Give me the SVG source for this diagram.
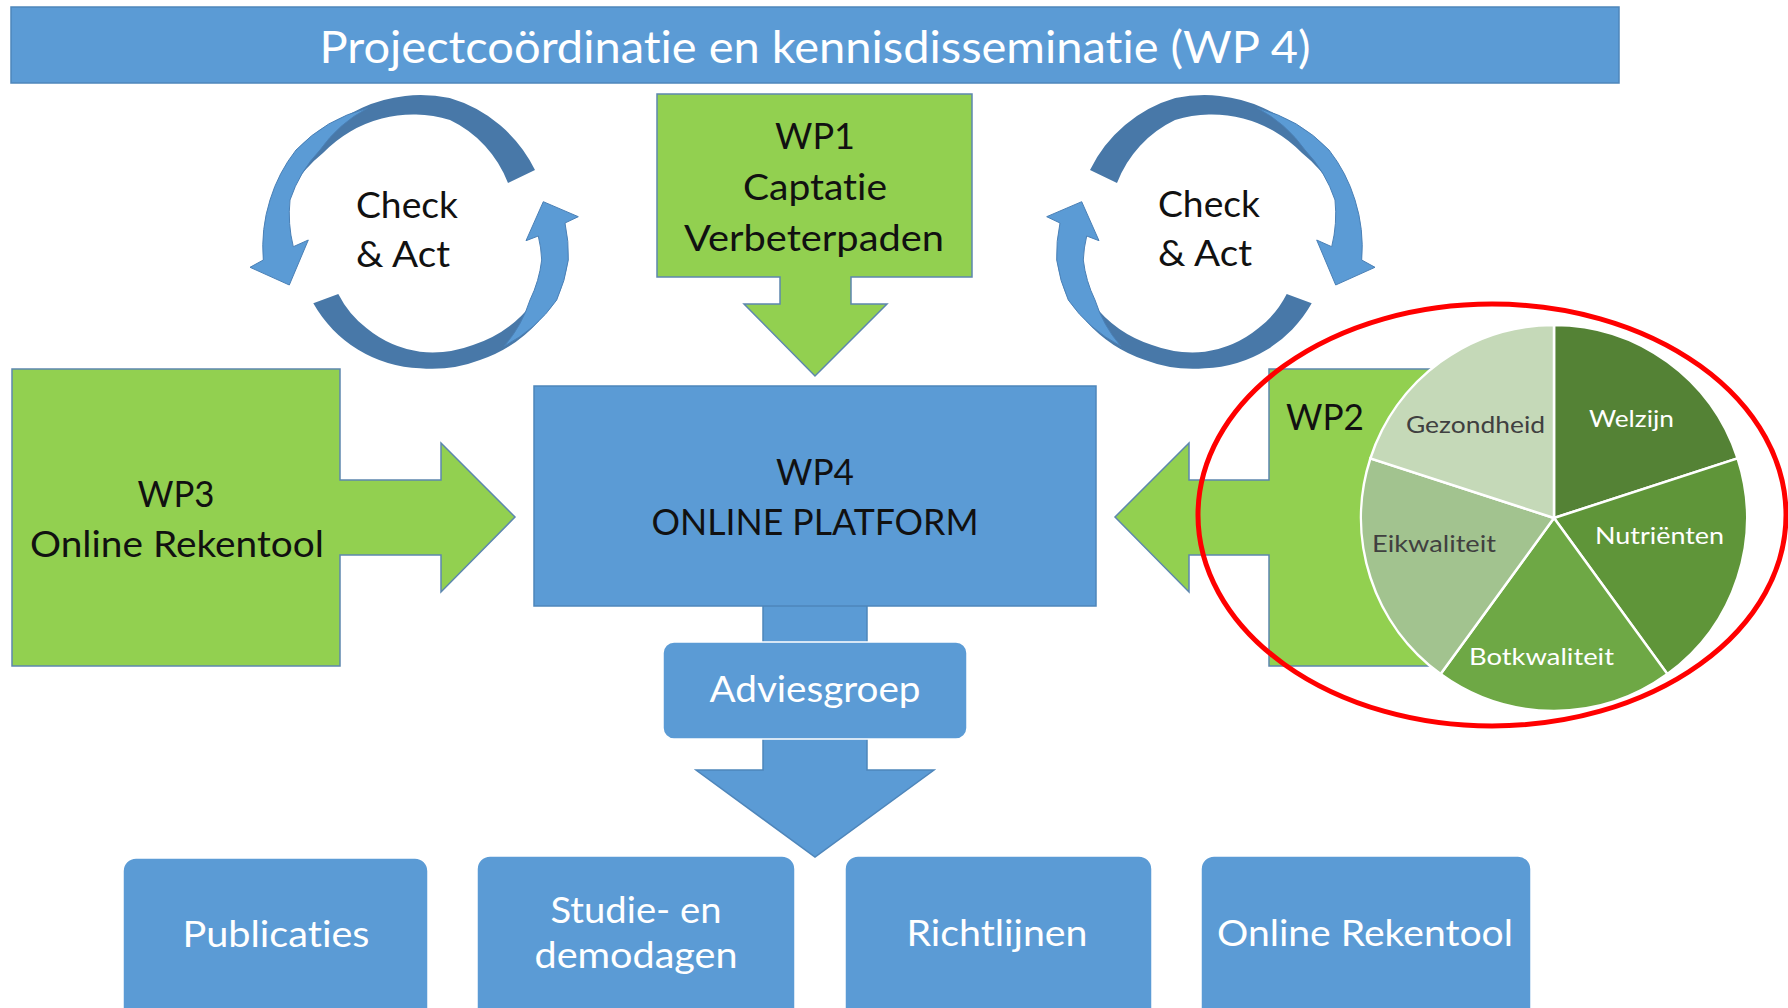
<svg xmlns="http://www.w3.org/2000/svg" xmlns:xlink="http://www.w3.org/1999/xlink" width="1788" height="1008" viewBox="0 0 1788 1008">
<style>
.g{fill:#92D050;stroke:#5D87AE;stroke-width:1.5}
.b{fill:#5B9BD5;stroke:#4E86BB;stroke-width:1.5}
.rb{fill:#5B9BD5;stroke:#ffffff;stroke-width:1.5}
.t{font-family:Lato,"Open Sans","Liberation Sans",sans-serif;font-size:37px;fill:#111111;font-variant-ligatures:none;font-feature-settings:"liga" 0,"clig" 0}
.w{fill:#ffffff}
.m{text-anchor:middle}
.p{font-size:23px}
.dk{fill:#4878A8}
.lt{fill:#5B9BD5;stroke:#4A80B6;stroke-width:1}
.sl{stroke:#ffffff;stroke-width:2.5}
</style>
<defs>
<g id="arrA">
<path class="dk" d="M115,-68 A138,138 0 0 0 29.7,-139.9 A142,142 0 0 0 -123,-71 L-129.6,-47.2 A135,135 0 0 1 -97,-85 A125,125 0 0 1 30,-118 A115,115 0 0 1 88,-55 Z"/>
<path class="lt" d="M-52.4,-129.8 A150,150 0 0 0 -124,-88 A154,154 0 0 0 -150,-38 A156,156 0 0 0 -156.7,22 L-170,29.3 L-130.7,47 L-111.7,2 L-126.7,8.7 A135,135 0 0 1 -130,-38 A134,134 0 0 1 -100,-88 A135,135 0 0 1 -52.4,-129.8 Z"/>
</g>
<g id="arrB">
<path class="dk" d="M-106.7,65.3 A128,128 0 0 0 0,130.3 A134,134 0 0 0 60,122 A138,138 0 0 0 118.8,83.2 L112.6,65 A122,122 0 0 1 53,107 A116,116 0 0 1 0,113.7 A108,108 0 0 1 -53.3,90.3 A100,100 0 0 1 -81.7,56 Z"/>
<path class="lt" d="M84.3,108 A145,145 0 0 0 136.7,62 A150,150 0 0 0 148.3,22 A150,150 0 0 0 145,-15 L158.3,-21.3 L123.3,-36.3 L106,2.7 L118.3,-2 A122,122 0 0 1 121.7,22 A125,125 0 0 1 110,62 A130,130 0 0 1 84.3,108 Z"/>
</g>
</defs>
<rect width="1788" height="1008" fill="#ffffff"/>

<g id="banner">
<rect class="b" x="11" y="7" width="1608" height="76"/>
<text class="t w m" x="815" y="63" style="font-size:44px" textLength="991" lengthAdjust="spacingAndGlyphs">Projectcoördinatie en kennisdisseminatie (WP 4)</text>
</g>

<g id="connectors">
<path class="b" d="M763,600 H867 V770 H934 L815,857 L696,770 H763 Z"/>
</g>

<g id="cycle-left">
<use xlink:href="#arrA" href="#arrA" transform="translate(420,238)"/>
<use xlink:href="#arrB" href="#arrB" transform="translate(420,238)"/>
<text class="t" x="356" y="218" textLength="102" lengthAdjust="spacingAndGlyphs">Check</text>
<text class="t" x="356" y="267" textLength="94" lengthAdjust="spacingAndGlyphs">&amp; Act</text>
</g>

<g id="cycle-right">
<use xlink:href="#arrA" href="#arrA" transform="translate(1205,238) scale(-1,1)"/>
<use xlink:href="#arrB" href="#arrB" transform="translate(1205,238) scale(-1,1)"/>
<text class="t" x="1158" y="217" textLength="102" lengthAdjust="spacingAndGlyphs">Check</text>
<text class="t" x="1158" y="266" textLength="94" lengthAdjust="spacingAndGlyphs">&amp; Act</text>
</g>

<g id="wp1">
<path class="g" d="M657,94 H972 V277 H851 V304 H887 L815,376 L744,304 H780 V277 H657 Z"/>
<text class="t m" x="815" y="149" textLength="80" lengthAdjust="spacingAndGlyphs">WP1</text>
<text class="t m" x="815" y="200" textLength="144" lengthAdjust="spacingAndGlyphs">Captatie</text>
<text class="t m" x="814" y="251" textLength="260" lengthAdjust="spacingAndGlyphs">Verbeterpaden</text>
</g>

<g id="wp3">
<path class="g" d="M12,369 H340 V480 H441 V443 L515,517 L441,592 V555 H340 V666 H12 Z"/>
<text class="t m" x="176" y="507" textLength="77" lengthAdjust="spacingAndGlyphs">WP3</text>
<text class="t m" x="177" y="557" textLength="294" lengthAdjust="spacingAndGlyphs">Online Rekentool</text>
</g>

<g id="wp2">
<path class="g" d="M1269,369 H1597 V666 H1269 V555 H1189 V592 L1115,517 L1189,443 V480 H1269 Z"/>
<text class="t" x="1286" y="430" textLength="78" lengthAdjust="spacingAndGlyphs">WP2</text>
</g>

<g id="wp4">
<rect class="b" x="534" y="386" width="562" height="220"/>
<text class="t m" x="815" y="485" textLength="78" lengthAdjust="spacingAndGlyphs">WP4</text>
<text class="t m" x="815" y="535" textLength="327" lengthAdjust="spacingAndGlyphs">ONLINE PLATFORM</text>
</g>

<g id="adviesgroep">
<rect class="rb" x="663" y="642" width="304" height="97" rx="11"/>
<text class="t w m" x="815" y="702" textLength="211" lengthAdjust="spacingAndGlyphs">Adviesgroep</text>
</g>

<g id="publicaties">
<rect class="rb" x="123" y="858" width="305" height="170" rx="13"/>
<text class="t w m" x="276" y="947" textLength="187" lengthAdjust="spacingAndGlyphs">Publicaties</text>
</g>
<g id="studie">
<rect class="rb" x="477" y="856" width="318" height="172" rx="13"/>
<text class="t w m" x="636" y="923" textLength="171" lengthAdjust="spacingAndGlyphs">Studie- en</text>
<text class="t w m" x="636" y="968" textLength="203" lengthAdjust="spacingAndGlyphs">demodagen</text>
</g>
<g id="richtlijnen">
<rect class="rb" x="845" y="856" width="307" height="172" rx="13"/>
<text class="t w m" x="997" y="946" textLength="181" lengthAdjust="spacingAndGlyphs">Richtlijnen</text>
</g>
<g id="online-rekentool">
<rect class="rb" x="1201" y="856" width="330" height="172" rx="13"/>
<text class="t w m" x="1365" y="946" textLength="296" lengthAdjust="spacingAndGlyphs">Online Rekentool</text>
</g>

<g id="pie">
<path class="sl" fill="#548235" d="M1554,518 L1554,325 A193,193 0 0 1 1737.6,458.4 Z"/>
<path class="sl" fill="#5F9539" d="M1554,518 L1737.6,458.4 A193,193 0 0 1 1667.4,674.1 Z"/>
<path class="sl" fill="#6EA845" d="M1554,518 L1667.4,674.1 A193,193 0 0 1 1440.6,674.1 Z"/>
<path class="sl" fill="#A2C38F" d="M1554,518 L1440.6,674.1 A193,193 0 0 1 1370.4,458.4 Z"/>
<path class="sl" fill="#C5D9B8" d="M1554,518 L1370.4,458.4 A193,193 0 0 1 1554,325 Z"/>
<text class="t p" x="1406" y="433" style="fill:#404040" textLength="139" lengthAdjust="spacingAndGlyphs">Gezondheid</text>
<text class="t p w" x="1589" y="427" textLength="85" lengthAdjust="spacingAndGlyphs">Welzijn</text>
<text class="t p w" x="1595" y="544" textLength="129" lengthAdjust="spacingAndGlyphs">Nutriënten</text>
<text class="t p" x="1372" y="552" style="fill:#404040" textLength="124" lengthAdjust="spacingAndGlyphs">Eikwaliteit</text>
<text class="t p w" x="1469" y="665" textLength="145" lengthAdjust="spacingAndGlyphs">Botkwaliteit</text>
</g>

<g id="highlight">
<ellipse cx="1492" cy="515" rx="294" ry="211" fill="none" stroke="#FF0000" stroke-width="5"/>
</g>
</svg>
